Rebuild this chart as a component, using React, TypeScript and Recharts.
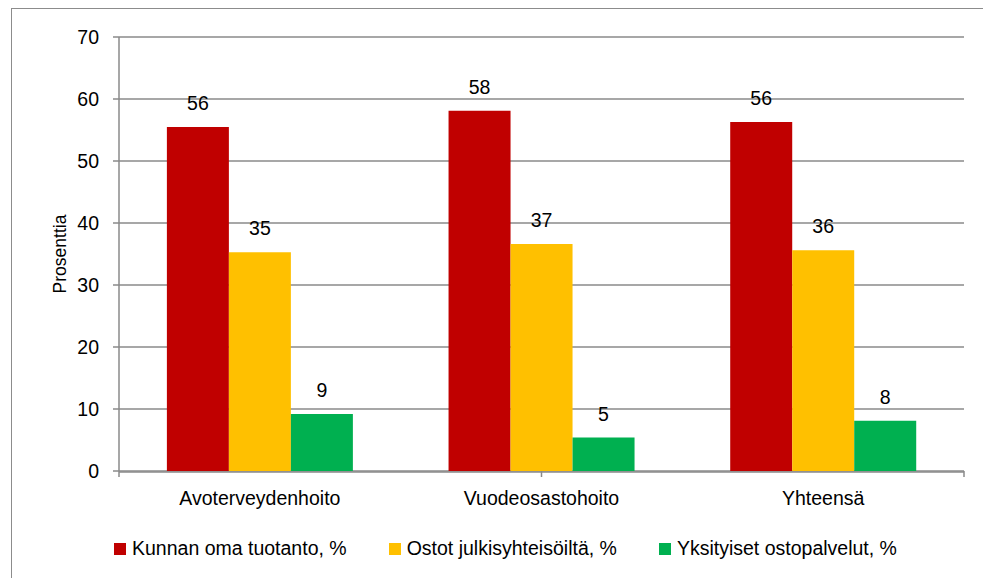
import { BarChart, Bar, XAxis, YAxis, CartesianGrid, Legend, LabelList } from 'recharts'

const categories = ['Avoterveydenhoito', 'Vuodeosastohoito', 'Yhteensä']
const seriesNames = ['Kunnan oma tuotanto, %', 'Ostot julkisyhteisöiltä, %', 'Yksityiset ostopalvelut, %']
const seriesColors = ['#C00000', '#FFC000', '#00B050']
const omaTuotanto = [55.5, 58.1, 56.3]
const julkiset = [35.3, 36.6, 35.6]
const yksityiset = [9.2, 5.4, 8.1]
const yTicks = [0, 10, 20, 30, 40, 50, 60, 70]
const edgeTicks = [0, 1, 2, 3]

const data = categories.map((name, i) => ({
  name,
  s0: omaTuotanto[i],
  s1: julkiset[i],
  s2: yksityiset[i],
}))

const FONT = '"Liberation Sans", Arial, sans-serif'
const GRID = '#8a8a8a'

function LegendContent() {
  return (
    <div style={{ display: 'flex', justifyContent: 'flex-start', paddingLeft: 114, fontFamily: FONT, fontSize: 19.5, color: '#000' }}>
      {seriesNames.map((n, i) => (
        <div key={n} style={{ display: 'flex', alignItems: 'center', marginRight: 42 }}>
          <span style={{ width: 12, height: 12, background: seriesColors[i], marginRight: 6, display: 'inline-block' }} />
          <span>{n}</span>
        </div>
      ))}
    </div>
  )
}

export default function App() {
  return (
    <div style={{ position: 'absolute', left: 0, top: 0, width: 983, height: 578, overflow: 'hidden', background: '#fff' }}>
      <div style={{ position: 'absolute', left: 11, top: 8, width: 1100, height: 700, border: '1.5px solid #8c8c8c' }} />
      <div style={{ position: 'absolute', left: 0, top: 0 }}>
        <BarChart
          width={983}
          height={578}
          data={data}
          margin={{ top: 37, right: 19, left: 0, bottom: 46 }}
          barCategoryGap="17%"
          barGap={0}
          style={{ fontFamily: FONT }}
        >
          <CartesianGrid xAxisId="z" horizontal vertical={false} stroke={GRID} strokeWidth={1.5} />
          <XAxis
            xAxisId="a"
            type="number"
            domain={[0, 3]}
            ticks={edgeTicks}
            tick={() => <g />}
            axisLine={false}
            tickLine={{ stroke: GRID, strokeWidth: 1.5 }}
            tickSize={6}
            height={1}
          />
          <XAxis
            xAxisId="z"
            dataKey="name"
            axisLine={{ stroke: GRID, strokeWidth: 1.5 }}
            tickLine={false}
            tickSize={0}
            tickMargin={19}
            tick={{ fill: '#000', fontSize: 19.5 }}
            height={60}
          />
          <YAxis
            domain={[0, 70]}
            ticks={yTicks}
            width={119}
            axisLine={{ stroke: GRID, strokeWidth: 1.5 }}
            tickLine={{ stroke: GRID, strokeWidth: 1.5 }}
            tickSize={6}
            tickMargin={14}
            tick={{ fill: '#000', fontSize: 19.5 }}
            label={{ value: 'Prosenttia', angle: -90, position: 'center', fill: '#000', fontSize: 17.5 }}
          />
          <Legend
            layout="horizontal"
            verticalAlign="middle"
            wrapperStyle={{ top: 537, left: 0, width: 983 }}
            content={<LegendContent />}
          />
          {['s0', 's1', 's2'].map((k, i) => (
            <Bar key={k} xAxisId="z" dataKey={k} name={seriesNames[i]} fill={seriesColors[i]} isAnimationActive={false}>
              <LabelList
                dataKey={k}
                position="top"
                offset={17}
                formatter={(v: any) => Math.round(v)}
                style={{ fill: '#000', fontSize: 19.5 }}
              />
            </Bar>
          ))}
        </BarChart>
      </div>
    </div>
  )
}
